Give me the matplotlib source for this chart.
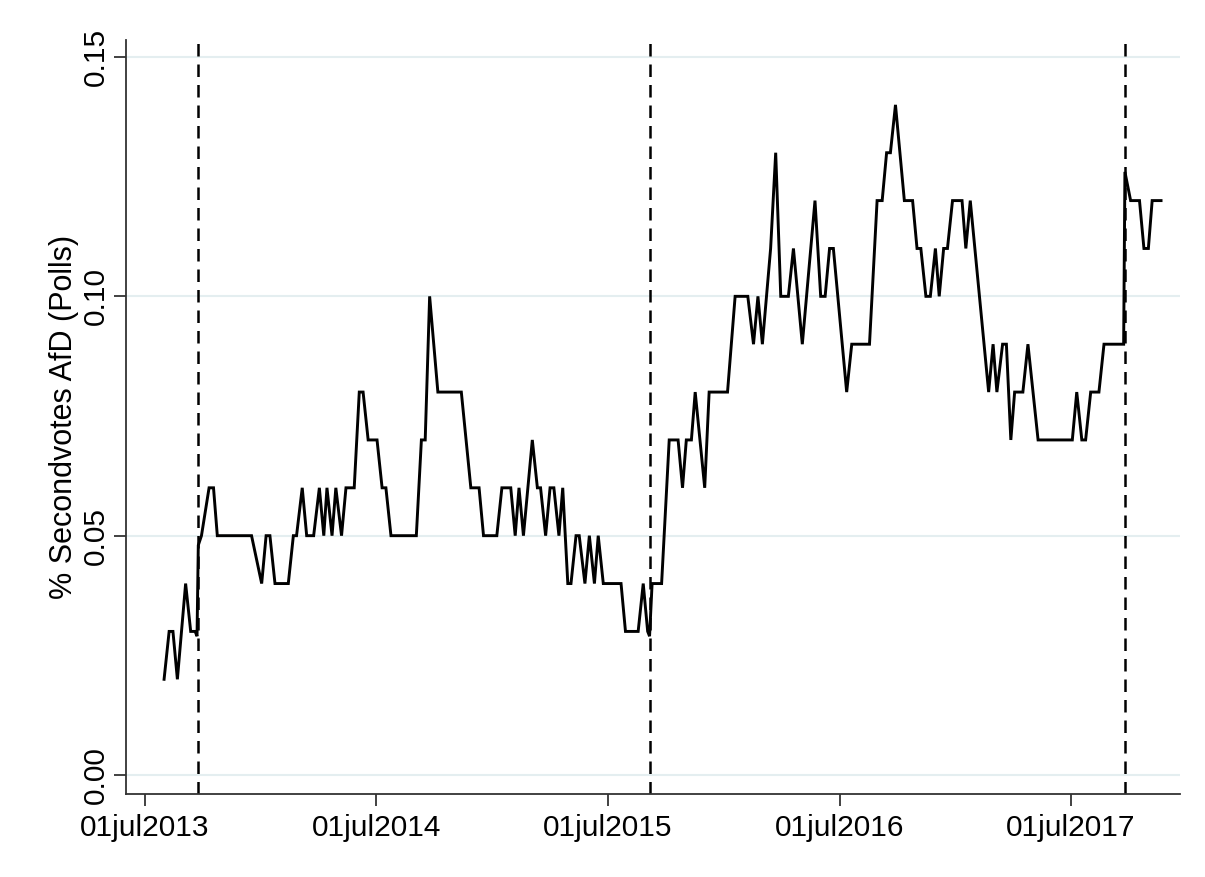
import matplotlib
matplotlib.use("Agg")
import matplotlib.pyplot as plt
import matplotlib.dates as mdates
import pandas as pd

# ---- data ----
poll_dates = [
    "2013-07-31", "2013-08-08", "2013-08-14", "2013-08-21", "2013-09-03", "2013-09-11",
    "2013-09-18", "2013-09-21", "2013-09-23", "2013-09-28", "2013-10-10", "2013-10-17",
    "2013-10-23", "2013-12-16", "2014-01-01", "2014-01-08", "2014-01-14", "2014-01-22",
    "2014-02-12", "2014-02-20", "2014-02-25", "2014-03-06", "2014-03-13", "2014-03-24",
    "2014-04-02", "2014-04-09", "2014-04-14", "2014-04-22", "2014-04-28", "2014-05-07",
    "2014-05-14", "2014-05-27", "2014-06-04", "2014-06-10", "2014-06-18", "2014-07-02",
    "2014-07-10", "2014-07-16", "2014-07-24", "2014-09-02", "2014-09-10", "2014-09-16",
    "2014-09-23", "2014-10-06", "2014-11-12", "2014-11-27", "2014-12-10", "2014-12-17",
    "2015-01-07", "2015-01-15", "2015-01-29", "2015-02-05", "2015-02-11", "2015-02-18",
    "2015-03-04", "2015-03-12", "2015-03-17", "2015-03-25", "2015-04-01", "2015-04-07",
    "2015-04-15", "2015-04-21", "2015-04-29", "2015-05-04", "2015-05-12", "2015-05-17",
    "2015-05-26", "2015-06-02", "2015-06-10", "2015-06-16", "2015-06-24", "2015-07-22",
    "2015-07-29", "2015-08-18", "2015-08-26", "2015-09-02", "2015-09-05", "2015-09-09",
    "2015-09-24", "2015-10-06", "2015-10-20", "2015-10-27", "2015-11-02", "2015-11-10",
    "2015-11-16", "2015-12-01", "2015-12-08", "2016-01-06", "2016-01-18", "2016-02-07",
    "2016-02-16", "2016-02-23", "2016-03-01", "2016-03-14", "2016-03-22", "2016-03-30",
    "2016-04-11", "2016-04-19", "2016-05-03", "2016-05-23", "2016-06-01", "2016-06-08",
    "2016-06-15", "2016-06-21", "2016-07-12", "2016-07-20", "2016-08-17", "2016-08-29",
    "2016-09-06", "2016-09-13", "2016-09-19", "2016-09-27", "2016-10-11", "2016-10-24",
    "2016-10-31", "2016-11-06", "2016-11-14", "2016-11-21", "2016-11-29", "2016-12-05",
    "2016-12-12", "2016-12-18", "2016-12-26", "2017-01-10", "2017-01-16", "2017-01-23",
    "2017-02-21", "2017-02-28", "2017-03-06", "2017-03-15", "2017-03-21", "2017-03-28",
    "2017-04-03", "2017-04-16", "2017-04-24", "2017-05-10", "2017-07-03", "2017-07-10",
    "2017-07-18", "2017-07-24", "2017-08-01", "2017-08-14", "2017-08-22", "2017-09-22",
    "2017-09-24", "2017-10-03", "2017-10-17", "2017-10-24", "2017-10-31", "2017-11-06",
    "2017-11-20",
]
afd_share = [
    0.02, 0.03, 0.03, 0.02, 0.04, 0.03,
    0.03, 0.029, 0.048, 0.05, 0.06, 0.06,
    0.05, 0.05, 0.04, 0.05, 0.05, 0.04,
    0.04, 0.05, 0.05, 0.06, 0.05, 0.05,
    0.06, 0.05, 0.06, 0.05, 0.06, 0.05,
    0.06, 0.06, 0.08, 0.08, 0.07, 0.07,
    0.06, 0.06, 0.05, 0.05, 0.07, 0.07,
    0.10, 0.08, 0.08, 0.06, 0.06, 0.05,
    0.05, 0.06, 0.06, 0.05, 0.06, 0.05,
    0.07, 0.06, 0.06, 0.05, 0.06, 0.06,
    0.05, 0.06, 0.04, 0.04, 0.05, 0.05,
    0.04, 0.05, 0.04, 0.05, 0.04, 0.04,
    0.03, 0.03, 0.04, 0.03, 0.029, 0.04,
    0.04, 0.07, 0.07, 0.06, 0.07, 0.07,
    0.08, 0.06, 0.08, 0.08, 0.10, 0.10,
    0.09, 0.10, 0.09, 0.11, 0.13, 0.10,
    0.10, 0.11, 0.09, 0.12, 0.10, 0.10,
    0.11, 0.11, 0.08, 0.09, 0.09, 0.12,
    0.12, 0.13, 0.13, 0.14, 0.12, 0.12,
    0.11, 0.11, 0.10, 0.10, 0.11, 0.10,
    0.11, 0.11, 0.12, 0.12, 0.11, 0.12,
    0.08, 0.09, 0.08, 0.09, 0.09, 0.07,
    0.08, 0.08, 0.09, 0.07, 0.07, 0.08,
    0.07, 0.07, 0.08, 0.08, 0.09, 0.09,
    0.126, 0.12, 0.12, 0.11, 0.11, 0.12,
    0.12,
]
event_dates = ["2013-09-22", "2015-09-05", "2017-09-24"]
xtick_dates = ["2013-07-01", "2014-07-01", "2015-07-01", "2016-07-01", "2017-07-01"]
xtick_labels = ["01jul2013", "01jul2014", "01jul2015", "01jul2016", "01jul2017"]
ytick_values = [0.00, 0.05, 0.10, 0.15]
ytick_labels = ["0.00", "0.05", "0.10", "0.15"]
ylabel = "% Secondvotes AfD (Polls)"

# ---- plot ----
plt.rcParams["font.family"] = ["Liberation Sans", "DejaVu Sans"]
fig = plt.figure(figsize=(12.05, 8.77), dpi=100)
ax = fig.add_axes([0.1046, 0.0946, 0.8747, 0.8598])

x = pd.to_datetime(poll_dates)
for yv in ytick_values:
    ax.axhline(yv, color="#e4eef0", lw=1.5, zorder=0)

ax.plot(x, afd_share, color="black", lw=2.1, zorder=3, solid_joinstyle="miter")
for d in event_dates:
    ax.axvline(pd.Timestamp(d), color="black", lw=1.8, ls=(0, (5.0, 3.2)), zorder=2)

ax.set_xlim(pd.Timestamp("2013-06-01"), pd.Timestamp("2017-12-20"))
ax.set_ylim(-0.00397, 0.15355)

ax.set_xticks(pd.to_datetime(xtick_dates))
ax.set_xticklabels(xtick_labels, fontsize=21.5)
ax.set_yticks(ytick_values)
ax.set_yticklabels(ytick_labels, fontsize=21.5, rotation=90, va="center")
ax.set_ylabel(ylabel, fontsize=22, labelpad=2)

for s in ["top", "right"]:
    ax.spines[s].set_visible(False)
for s in ["left", "bottom"]:
    ax.spines[s].set_color("#333333")
    ax.spines[s].set_linewidth(1.3)
ax.tick_params(axis="both", length=8.5, width=1.3, color="#333333")
ax.tick_params(axis="x", pad=6)
ax.tick_params(axis="y", pad=3)

fig.savefig("out.png", dpi=100, facecolor="white")
